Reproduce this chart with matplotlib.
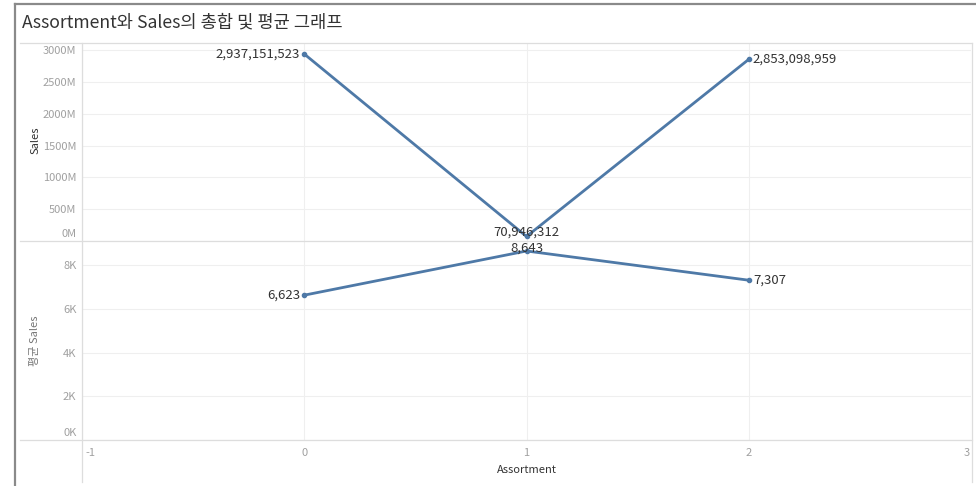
import matplotlib
matplotlib.use("Agg")
import matplotlib.pyplot as plt
from matplotlib.lines import Line2D
from matplotlib.ticker import FuncFormatter
from matplotlib.transforms import ScaledTranslation

plt.rcParams['font.family'] = ['Noto Sans CJK KR', 'DejaVu Sans']
plt.rcParams['axes.unicode_minus'] = False

# Data
assortment = [0, 1, 2]
sales_total = [2937151523, 70946312, 2853098959]
sales_mean = [6623, 8643, 7307]
title = "Assortment와 Sales의 총합 및 평균 그래프"

W, H = 976, 486
fig = plt.figure(figsize=(W / 100, H / 100), dpi=100)
fig.patch.set_facecolor("white")

def rect(x0, y0, x1, y1):
    return [x0 / W, 1 - y1 / H, (x1 - x0) / W, (y1 - y0) / H]

LINE = "#4e79a7"
GRID = "#efefef"
TICK = "#a0a0a0"
TEXT = "#333333"

ax1 = fig.add_axes(rect(82, 43, 971, 241))
ax2 = fig.add_axes(rect(82, 241, 971, 440))

for ax in (ax1, ax2):
    for s in ax.spines.values():
        s.set_visible(False)
    ax.set_xlim(-1, 3)
    ax.set_xticks([-1, 0, 1, 2, 3])
    ax.grid(True, color=GRID, linewidth=0.8)
    ax.set_axisbelow(True)
    ax.tick_params(length=0, labelsize=8, labelcolor=TICK, pad=4)

lab_kw = dict(fontsize=9.5, color=TEXT, zorder=4)

# Upper panel: total sales in millions
ax1.plot(assortment, [v / 1e6 for v in sales_total], color=LINE, lw=2,
         marker="o", ms=3, zorder=3)
ax1.set_ylim(0, 3110)
ax1.set_yticks([0, 500, 1000, 1500, 2000, 2500, 3000])
ax1.yaxis.set_major_formatter(FuncFormatter(lambda v, p: f"{int(v)}M"))
ax1.tick_params(axis="x", labelbottom=False)
ax1.set_ylabel("Sales", fontsize=8, color=TEXT)
ax1.yaxis.set_label_coords(-0.047, 0.51)

offsets1 = [(-3, 0, "right", "center"), (0, 3, "center", "center"), (3, 0, "left", "center")]
for x, v, (dx, dy, ha, va) in zip(assortment, sales_total, offsets1):
    ax1.annotate(f"{v:,}", (x, v / 1e6), xytext=(dx, dy), textcoords="offset points",
                 ha=ha, va=va, **lab_kw)

# Lower panel: average sales
ax2.plot(assortment, sales_mean, color=LINE, lw=2, marker="o", ms=3, zorder=3)
ax2.set_ylim(0, 9100)
ax2.set_yticks([0, 2000, 4000, 6000, 8000])
ax2.yaxis.set_major_formatter(FuncFormatter(lambda v, p: f"{int(v / 1000)}K"))
ax2.set_ylabel("평균 Sales", fontsize=8, color="#777777")
ax2.yaxis.set_label_coords(-0.047, 0.5)
ax2.set_xlabel("Assortment", fontsize=8, color=TEXT, labelpad=5)
ax2.tick_params(axis="x", pad=6)

offsets2 = [(-3, 0, "right", "center"), (0, 2, "center", "center"), (3, 0, "left", "center")]
for x, v, (dx, dy, ha, va) in zip(assortment, sales_mean, offsets2):
    ax2.annotate(f"{v:,}", (x, v), xytext=(dx, dy), textcoords="offset points",
                 ha=ha, va=va, **lab_kw)

fig.canvas.draw()

# Keep the edge tick labels inside the plot area
xt = ax2.get_xticklabels()
xt[0].set_horizontalalignment("left")
xt[0].set_transform(xt[0].get_transform() + ScaledTranslation(3 / 100, 0, fig.dpi_scale_trans))
xt[-1].set_horizontalalignment("right")
xt[-1].set_transform(xt[-1].get_transform() + ScaledTranslation(-1 / 100, 0, fig.dpi_scale_trans))

# Lift the zero labels off the panel boundary
for ax in (ax1, ax2):
    yl = ax.get_yticklabels()[0]
    yl.set_transform(yl.get_transform() + ScaledTranslation(0, 8 / 100, fig.dpi_scale_trans))

# Frame lines in pixel coordinates
def hline(y, x0, x1, color, lw):
    fig.add_artist(Line2D([x0 / W, x1 / W], [1 - y / H, 1 - y / H],
                          color=color, lw=lw, transform=fig.transFigure))

def vline(x, y0, y1, color, lw):
    fig.add_artist(Line2D([x / W, x / W], [1 - y0 / H, 1 - y1 / H],
                          color=color, lw=lw, transform=fig.transFigure))

hline(43, 20, 972, "#dddddd", 0.9)
hline(241, 20, 972, "#dddddd", 0.9)
hline(440, 20, 972, "#dddddd", 0.9)
vline(82, 43, 482, "#dddddd", 0.9)
vline(972, 43, 482, "#dddddd", 0.9)

# Outer dashboard border
hline(4, 15, 976, "#8a8a8a", 1.6)
vline(15, 4, 486, "#8a8a8a", 1.6)

fig.text(22 / W, 1 - 22 / H, title, fontsize=12.7, color=TEXT, ha="left", va="center")

fig.savefig("out.png", dpi=100)
